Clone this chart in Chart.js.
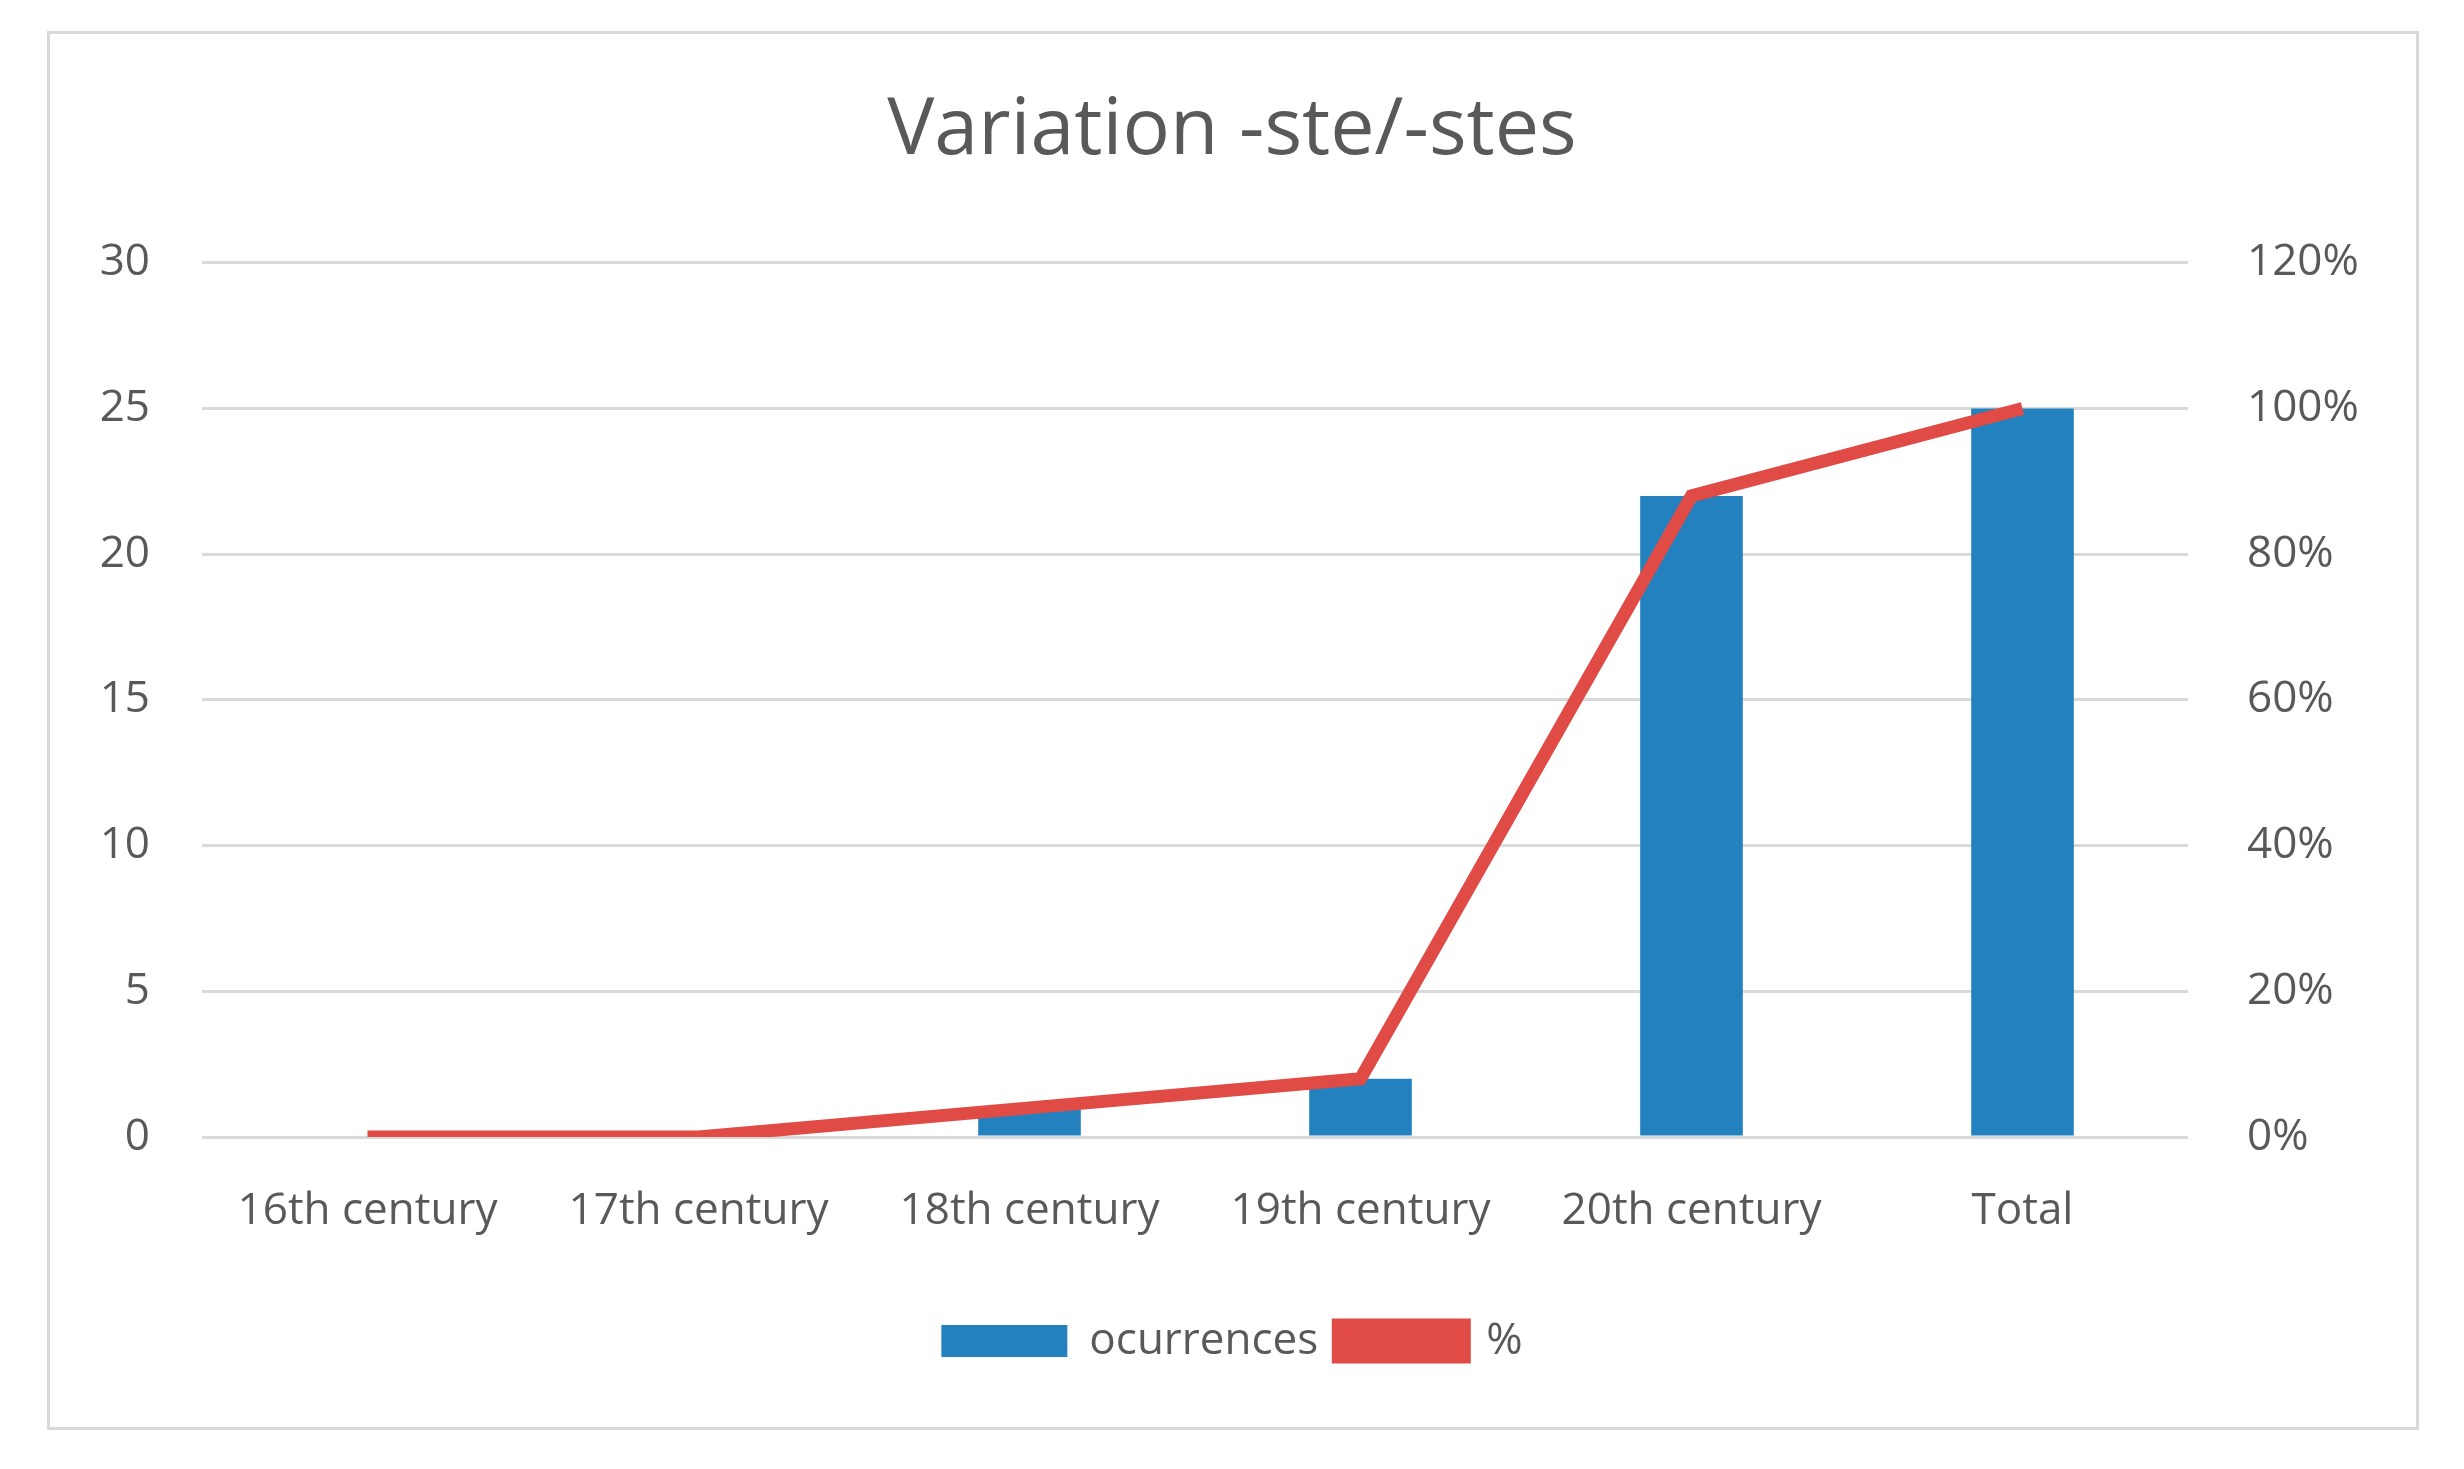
<!DOCTYPE html>
<html><head><meta charset="utf-8">
<script src="https://cdn.jsdelivr.net/npm/chart.js@4"></script>
<style>
html,body{margin:0;padding:0;background:#fff;}
#frame{position:absolute;left:47px;top:31px;width:2372px;height:1399px;border:3px solid #d9d9d9;box-sizing:border-box;}
#wrap{position:absolute;left:0;top:0;width:2464px;height:1469px;}
</style></head><body>
<div id="frame"></div>
<div id="wrap"><canvas id="c" width="2464" height="1469"></canvas></div>
<script>
const categories = ["16th century","17th century","18th century","19th century","20th century","Total"];
const occurrences = [0,0,1,2,22,25];
const percent = [0,0,4,8,88,100];
const leftTicks = [0,5,10,15,20,25,30];
const rightTicks = [0,20,40,60,80,100,120];

const font = "'Open Sans','Noto Sans',sans-serif";
const grey = '#595959';
new Chart(document.getElementById('c'), {
  data: {
    labels: categories,
    datasets: [
      {type:'line', label:'%', data: percent, yAxisID:'y2', borderColor:'#e04b46', backgroundColor:'#e04b46', borderWidth:13, pointRadius:0, tension:0, order:0},
      {type:'bar', label:'ocurrences', data: occurrences, yAxisID:'y', backgroundColor:'#2481c0', barPercentage:0.31, categoryPercentage:1, order:1}
    ]
  },
  options: {
    responsive:false, animation:false,
    layout:{padding:{left:0,right:0,top:0,bottom:96}},
    plugins:{
      title:{display:true,text:'Variation -ste/-stes',color:grey,font:{family:font,size:79,weight:'normal'},padding:{top:84,bottom:84}},
      legend:{position:'bottom',reverse:true,labels:{color:grey,font:{family:font,size:44},boxWidth:126,boxHeight:32,padding:20}},
      tooltip:{enabled:false}
    },
    scales:{
      x:{grid:{display:false},border:{display:false},ticks:{color:grey,font:{family:font,size:44},padding:40,maxRotation:0,autoSkip:false},
         afterFit(s){s.height=162;}},
      y:{position:'left',min:0,max:30,afterBuildTicks(s){s.ticks=leftTicks.map(v=>({value:v}));},
         grid:{color:'#d9d9d9',lineWidth:3,drawTicks:false},border:{display:false},
         ticks:{color:grey,font:{family:font,size:44},padding:52},afterFit(s){s.width=202;}},
      y2:{position:'right',min:0,max:120,afterBuildTicks(s){s.ticks=rightTicks.map(v=>({value:v}));},
         grid:{display:false,drawTicks:false},border:{display:false},
         ticks:{color:grey,font:{family:font,size:44},padding:59,callback:v=>v+'%'},afterFit(s){s.width=276;}}
    }
  }
});
</script></body></html>
